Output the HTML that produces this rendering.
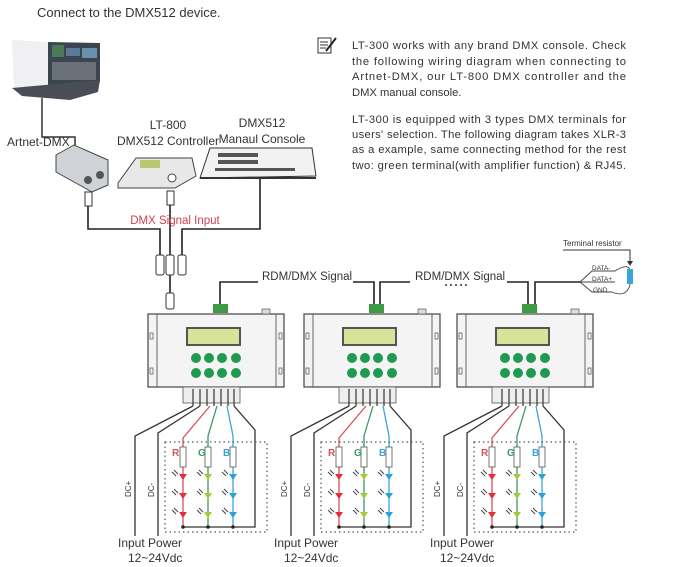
<!DOCTYPE html>
<html><head><meta charset="utf-8"><style>
html,body{margin:0;padding:0;background:#fff;width:680px;height:567px;overflow:hidden}
svg{display:block;font-family:"Liberation Sans",sans-serif}
</style></head><body>
<svg width="680" height="567" viewBox="0 0 680 567" xmlns="http://www.w3.org/2000/svg">
<defs>
<g id="dev">
  <rect x="148" y="314" width="136" height="73" fill="#f4f4f4" stroke="#444" stroke-width="1.2"/>
  <line x1="157" y1="314" x2="157" y2="387" stroke="#666"/>
  <line x1="276" y1="314" x2="276" y2="387" stroke="#666"/>
  <rect x="150" y="333" width="3" height="6" fill="none" stroke="#666" stroke-width="0.8"/>
  <rect x="150" y="368" width="3" height="6" fill="none" stroke="#666" stroke-width="0.8"/>
  <rect x="279" y="333" width="3" height="6" fill="none" stroke="#666" stroke-width="0.8"/>
  <rect x="279" y="368" width="3" height="6" fill="none" stroke="#666" stroke-width="0.8"/>
  <rect x="186" y="327" width="55" height="19" fill="#555" />
  <rect x="188" y="329" width="51" height="15" fill="#d8e39a"/>
  <g fill="#1f9a50">
    <circle cx="196" cy="358" r="5"/><circle cx="209" cy="358" r="5"/><circle cx="222" cy="358" r="5"/><circle cx="236" cy="358" r="5"/>
    <circle cx="196" cy="373" r="5"/><circle cx="209" cy="373" r="5"/><circle cx="222" cy="373" r="5"/><circle cx="236" cy="373" r="5"/>
  </g>
  <rect x="213" y="304" width="15" height="9" fill="#3f9a45"/>
  <rect x="262" y="309" width="8" height="5" fill="#ddd" stroke="#555" stroke-width="0.7"/>
  <rect x="183" y="387" width="57" height="16" fill="#eee" stroke="#555" stroke-width="0.8"/>
  <g stroke="#333" stroke-width="1.2">
    <line x1="193" y1="389" x2="193" y2="406"/><line x1="200" y1="389" x2="200" y2="406"/>
    <line x1="207" y1="389" x2="207" y2="406"/><line x1="214" y1="389" x2="214" y2="406"/>
    <line x1="221" y1="389" x2="221" y2="406"/><line x1="228" y1="389" x2="228" y2="406"/>
    <line x1="234" y1="389" x2="234" y2="406"/>
  </g>
  <g fill="none" stroke-width="1.3">
    <path d="M193 406 L135 436 L135 536" stroke="#333"/>
    <path d="M200 406 L158 433 L158 536" stroke="#333"/>
    <path d="M210 406 L183 438 L183 527" stroke="#d9505a"/>
    <path d="M217 406 L208 436 L208 527" stroke="#3a9a66"/>
    <path d="M227 406 L233 436 L233 527" stroke="#3aa6d8"/>
    <path d="M234 406 L255 430 L255 527 L183 527" stroke="#333"/>
  </g>
  <rect x="165" y="442" width="102" height="90" fill="none" stroke="#555" stroke-width="1.2" stroke-dasharray="1.5 3"/>
  <g fill="#fff" stroke="#555" stroke-width="0.8">
    <rect x="180" y="447" width="6" height="20"/><rect x="205" y="447" width="6" height="20"/><rect x="230" y="447" width="6" height="20"/>
  </g>
  <g fill="#e0303a"><path d="M179 474 h8 l-4 6z"/><path d="M179 493 h8 l-4 6z"/><path d="M179 512 h8 l-4 6z"/></g>
  <g fill="#a8c83a"><path d="M204 474 h8 l-4 6z"/><path d="M204 493 h8 l-4 6z"/><path d="M204 512 h8 l-4 6z"/></g>
  <g fill="#2aa0dc"><path d="M229 474 h8 l-4 6z"/><path d="M229 493 h8 l-4 6z"/><path d="M229 512 h8 l-4 6z"/></g>
  <g stroke="#444" stroke-width="1"><path d="M172 472 l4 4 M174 470 l4 4 M172 491 l4 4 M174 489 l4 4 M172 510 l4 4 M174 508 l4 4 M197 472 l4 4 M199 470 l4 4 M197 491 l4 4 M199 489 l4 4 M197 510 l4 4 M199 508 l4 4 M222 472 l4 4 M224 470 l4 4 M222 491 l4 4 M224 489 l4 4 M222 510 l4 4 M224 508 l4 4"/></g>
  <g fill="#222"><circle cx="183" cy="527" r="1.8"/><circle cx="208" cy="527" r="1.8"/><circle cx="233" cy="527" r="1.8"/></g>
</g>
</defs>

<text x="37" y="17" font-size="13" fill="#333">Connect to the DMX512 device.</text>

<!-- laptop -->
<polygon points="12,40 50,42 50,86 14,88" fill="#f0f0f2"/>
<polygon points="48,42 100,43 100,82 48,86" fill="#3a4550"/>
<rect x="52" y="45" width="12" height="12" fill="#4a7a5a"/>
<rect x="66" y="48" width="14" height="8" fill="#5a7a9a"/>
<rect x="82" y="48" width="15" height="10" fill="#6a90b0"/>
<rect x="52" y="62" width="44" height="18" fill="#6a7078"/>
<polygon points="12,88 100,80 98,92 70,100 22,96" fill="#4a4d55"/>
<polyline points="42,98 42,137 75,137 75,146" fill="none" stroke="#333" stroke-width="1.5"/>

<text x="7" y="146" font-size="12" fill="#333">Artnet-DMX</text>
<polygon points="56,155 74,145 108,160 108,185 92,192 56,172" fill="#cfd2d6" stroke="#444"/>
<circle cx="88" cy="180" r="4" fill="#555"/><circle cx="100" cy="175" r="4" fill="#555"/>

<text x="168" y="129" font-size="12" fill="#333" text-anchor="middle">LT-800</text>
<text x="168" y="145" font-size="12" fill="#333" text-anchor="middle">DMX512 Controller</text>
<polygon points="118,183 136,158 192,158 196,176 175,188 118,188" fill="#e8e8e8" stroke="#444"/>
<rect x="140" y="160" width="20" height="8" fill="#b8c870"/>
<circle cx="172" cy="178" r="4" fill="#fff" stroke="#444"/>

<text x="262" y="127" font-size="12" fill="#333" text-anchor="middle">DMX512</text>
<text x="262" y="143" font-size="12" fill="#333" text-anchor="middle">Manaul Console</text>
<polygon points="210,148 312,148 316,176 200,178" fill="#f2f2f2" stroke="#333"/>
<line x1="200" y1="178" x2="316" y2="178" stroke="#333" stroke-width="2"/>
<g fill="#555"><rect x="218" y="153" width="40" height="4"/><rect x="218" y="160" width="40" height="4"/><rect x="215" y="168" width="80" height="3"/></g>

<!-- cables -->
<g fill="none" stroke="#222" stroke-width="1.6">
  <polyline points="88,206 88,229 160,229 160,255"/>
  <polyline points="170,205 170,255"/>
  <polyline points="260,179 260,229 182,229 182,255"/>
  <line x1="170" y1="275" x2="170" y2="293"/>
  <polyline points="220,304 220,282 258,282"/><polyline points="353,282 374,282 374,304"/>
  <polyline points="380,304 380,282 410,282"/><polyline points="507,282 528,282 528,304"/>
  <polyline points="535,304 535,282 580,282"/>
</g>
<g fill="#fff" stroke="#333" stroke-width="1">
  <rect x="85" y="192" width="7" height="14"/><rect x="167" y="191" width="7" height="14"/>
  <rect x="156" y="255" width="8" height="20" rx="2"/><rect x="166" y="255" width="8" height="20" rx="2"/><rect x="178" y="255" width="8" height="20" rx="2"/>
  <rect x="166" y="293" width="8" height="16" rx="2"/>
</g>
<text x="175" y="224" font-size="11.5" fill="#d04050" text-anchor="middle">DMX Signal Input</text>

<text x="262" y="280" font-size="11.5" fill="#333">RDM/DMX Signal</text>
<text x="415" y="280" font-size="11.5" fill="#333">RDM/DMX Signal</text>
<line x1="445" y1="285" x2="470" y2="285" stroke="#333" stroke-width="1.5" stroke-dasharray="2 3"/>

<text x="563" y="246" font-size="8" fill="#333">Terminal resistor</text>
<polyline points="563,250 630,250 630,262" fill="none" stroke="#333"/>
<path d="M627 261 h6 l-3 5z" fill="#333"/>
<g fill="none" stroke="#444" stroke-width="0.9">
  <path d="M580 282 L592 271 L615 271 Q630 262 630 272 L630 285 Q626 298 612 292 L592 292 L580 282"/>
  <line x1="580" y1="282" x2="615" y2="282"/>
</g>
<rect x="627" y="269" width="6" height="15" fill="#3aa6d8"/>
<g font-size="6.5" fill="#333"><text x="592" y="270">DATA-</text><text x="592" y="281">DATA+</text><text x="593" y="292">GND</text></g>

<!-- note icon -->
<rect x="318" y="38" width="13" height="15" fill="#fff" stroke="#333"/>
<path d="M320 42 h8 M320 45 h8 M320 48 h6" stroke="#333"/>
<path d="M326 51 L336 38" stroke="#222" stroke-width="2"/>

<g font-size="11.2" fill="#333">
<text x="352" y="49" textLength="274" lengthAdjust="spacing">LT-300 works with any brand DMX console. Check</text>
<text x="352" y="65" textLength="274" lengthAdjust="spacing">the following wiring diagram when connecting to</text>
<text x="352" y="80" textLength="274" lengthAdjust="spacing">Artnet-DMX, our LT-800 DMX controller and the</text>
<text x="352" y="96">DMX manual console.</text>
<text x="352" y="123" textLength="274" lengthAdjust="spacing">LT-300 is equipped with 3 types DMX terminals for</text>
<text x="352" y="138" textLength="274" lengthAdjust="spacing">users' selection. The following diagram takes XLR-3</text>
<text x="352" y="153" textLength="274" lengthAdjust="spacing">as a example, same connecting method for the rest</text>
<text x="352" y="169" textLength="274" lengthAdjust="spacing">two: green terminal(with amplifier function) &amp; RJ45.</text>
</g>

<use href="#dev"/>
<use href="#dev" transform="translate(156,0)"/>
<use href="#dev" transform="translate(309,0)"/>

<g font-size="10" font-weight="bold">
<text x="172" y="456" fill="#d9505a">R</text><text x="198" y="456" fill="#3a9a66">G</text><text x="223" y="456" fill="#3aa6d8">B</text>
<text x="328" y="456" fill="#d9505a">R</text><text x="354" y="456" fill="#3a9a66">G</text><text x="379" y="456" fill="#3aa6d8">B</text>
<text x="481" y="456" fill="#d9505a">R</text><text x="507" y="456" fill="#3a9a66">G</text><text x="532" y="456" fill="#3aa6d8">B</text>
</g>
<g font-size="8" fill="#333">
<text transform="translate(131,497) rotate(-90)">DC+</text><text transform="translate(154,497) rotate(-90)">DC-</text>
<text transform="translate(287,497) rotate(-90)">DC+</text><text transform="translate(310,497) rotate(-90)">DC-</text>
<text transform="translate(440,497) rotate(-90)">DC+</text><text transform="translate(463,497) rotate(-90)">DC-</text>
</g>
<g font-size="12" fill="#333">
<text x="118" y="547">Input Power</text><text x="128" y="562">12~24Vdc</text>
<text x="274" y="547">Input Power</text><text x="284" y="562">12~24Vdc</text>
<text x="430" y="547">Input Power</text><text x="440" y="562">12~24Vdc</text>
</g>
</svg>
</body></html>
